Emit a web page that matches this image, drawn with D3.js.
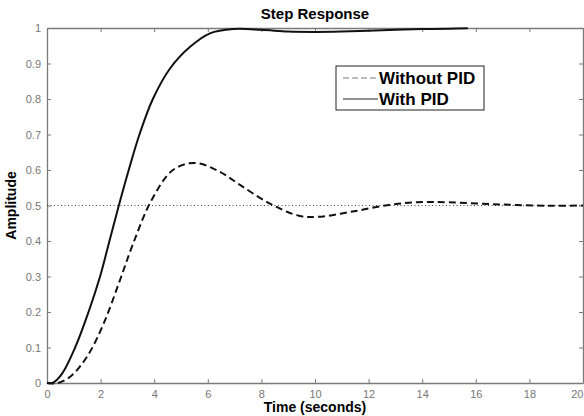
<!DOCTYPE html>
<html>
<head>
<meta charset="utf-8">
<script src="https://cdn.jsdelivr.net/npm/d3@7"></script>
<style>
  body { margin: 0; background: #fff; }
  svg { display: block; font-family: "Liberation Sans", Arial, sans-serif; }
</style>
</head>
<body>
<div id="chart"></div>
<script>
// step response samples
const timeNoPid = [0, 0.4, 0.9, 1.5, 2.1, 2.7, 3.2, 3.9, 4.7, 5.5, 6.4, 7.2, 8.3, 9.4, 10.1, 11.4, 12.7, 13.8, 15.0, 16.9, 18.8, 20];
const ampNoPid  = [0, 0.0, 0.02, 0.075, 0.165, 0.285, 0.39, 0.515, 0.60, 0.62, 0.597, 0.558, 0.506, 0.471, 0.468, 0.483, 0.501, 0.509, 0.509, 0.503, 0.499, 0.5];

const timePid = [0, 0.2, 0.55, 1.05, 1.55, 1.98, 2.33, 2.68, 3.05, 3.45, 3.95, 4.59, 5.34, 6.08, 6.95, 8, 9, 10, 11, 12, 13, 14, 15, 15.7];
const ampPid  = [0, 0.0, 0.025, 0.10, 0.20, 0.30, 0.40, 0.50, 0.60, 0.70, 0.80, 0.886, 0.947, 0.985, 0.997, 0.995, 0.99, 0.989, 0.99, 0.992, 0.995, 0.997, 0.998, 0.999];

const xTicks = [0, 2, 4, 6, 8, 10, 12, 14, 16, 18, 20];
const yTicks = [0, 0.1, 0.2, 0.3, 0.4, 0.5, 0.6, 0.7, 0.8, 0.9, 1];
const legendLabels = ['Without PID', 'With PID'];

const width = 584, height = 416;
const margin = { top: 28, right: 1, bottom: 33, left: 47 };
const innerW = width - margin.left - margin.right;
const innerH = height - margin.top - margin.bottom;

const svg = d3.select('#chart').append('svg')
  .attr('width', width)
  .attr('height', height);

const g = svg.append('g')
  .attr('transform', `translate(${margin.left}, ${margin.top})`);

const x = d3.scaleLinear().domain([0, 20]).range([0, innerW]);
const y = d3.scaleLinear().domain([0, 1]).range([innerH, 0]);

const axisColor = '#7a7a7a';

// axes: ticks point inward on all four sides
function styleAxis(sel) {
  sel.select('.domain').attr('stroke', axisColor).attr('stroke-width', 1.3);
  sel.selectAll('.tick line').attr('stroke', axisColor);
  sel.selectAll('.tick text').attr('fill', '#777').attr('font-size', 11);
}

const xAxisG = g.append('g')
  .attr('transform', `translate(0, ${innerH})`)
  .call(d3.axisBottom(x).tickValues(xTicks).tickSize(-4).tickPadding(7).tickSizeOuter(0))
  .call(styleAxis);

// last label sits at the window edge, keep it inside
xAxisG.selectAll('.tick text')
  .filter(d => d === 20)
  .attr('text-anchor', 'end');

g.append('g')
  .call(d3.axisLeft(y).tickValues(yTicks).tickSize(-4).tickPadding(6).tickSizeOuter(0)
    .tickFormat(d => d === 0 ? '0' : d === 1 ? '1' : d3.format('.1f')(d)))
  .call(styleAxis);

g.append('g')
  .call(d3.axisTop(x).tickValues(xTicks).tickSize(-4).tickSizeOuter(0).tickFormat(''))
  .call(styleAxis);

g.append('g')
  .attr('transform', `translate(${innerW}, 0)`)
  .call(d3.axisRight(y).tickValues(yTicks).tickSize(-4).tickSizeOuter(0).tickFormat(''))
  .call(styleAxis);

// steady-state reference line
g.append('line')
  .attr('x1', 0).attr('x2', innerW)
  .attr('y1', y(0.5)).attr('y2', y(0.5))
  .attr('stroke', '#444')
  .attr('stroke-width', 1)
  .attr('stroke-dasharray', '1,2.5');

const line = d3.line()
  .x(d => x(d[0]))
  .y(d => y(d[1]))
  .curve(d3.curveCatmullRom.alpha(0.5));

g.append('path')
  .datum(d3.zip(timeNoPid, ampNoPid))
  .attr('fill', 'none')
  .attr('stroke', '#111')
  .attr('stroke-width', 2)
  .attr('stroke-dasharray', '7,4')
  .attr('d', line);

g.append('path')
  .datum(d3.zip(timePid, ampPid))
  .attr('fill', 'none')
  .attr('stroke', '#111')
  .attr('stroke-width', 2)
  .attr('d', line);

// title and axis labels
svg.append('text')
  .attr('x', margin.left + innerW / 2)
  .attr('y', 19)
  .attr('text-anchor', 'middle')
  .attr('font-weight', 'bold')
  .attr('font-size', 15)
  .text('Step Response');

svg.append('text')
  .attr('x', margin.left + innerW / 2)
  .attr('y', 412)
  .attr('text-anchor', 'middle')
  .attr('font-weight', 'bold')
  .attr('font-size', 14)
  .text('Time (seconds)');

svg.append('text')
  .attr('transform', `translate(16, ${margin.top + innerH / 2}) rotate(-90)`)
  .attr('text-anchor', 'middle')
  .attr('font-weight', 'bold')
  .attr('font-size', 14)
  .text('Amplitude');

// legend
const legend = svg.append('g').attr('transform', 'translate(336, 66)');
legend.append('rect')
  .attr('width', 148).attr('height', 44)
  .attr('fill', '#fff')
  .attr('stroke', '#222')
  .attr('stroke-width', 1);

legend.selectAll('line.key')
  .data(legendLabels)
  .join('line')
  .attr('class', 'key')
  .attr('x1', 7).attr('x2', 42)
  .attr('y1', (d, i) => 12 + i * 21)
  .attr('y2', (d, i) => 12 + i * 21)
  .attr('stroke', (d, i) => i === 0 ? '#777' : '#222')
  .attr('stroke-width', 1)
  .attr('stroke-dasharray', (d, i) => i === 0 ? '6,3' : null);

legend.selectAll('text')
  .data(legendLabels)
  .join('text')
  .attr('x', 43)
  .attr('y', (d, i) => 18 + i * 21)
  .attr('font-size', 17)
  .attr('font-weight', 'bold')
  .text(d => d);
</script>
</body>
</html>
